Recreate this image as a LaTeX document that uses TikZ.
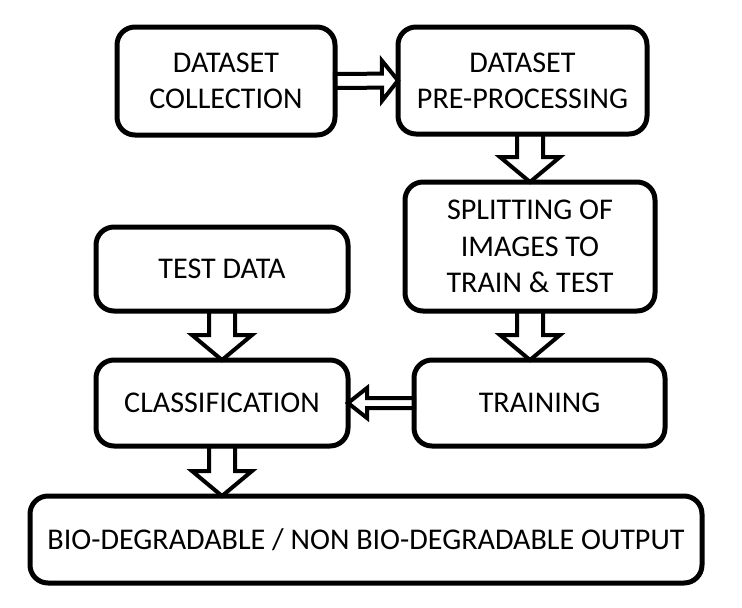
\documentclass[tikz,border=0pt]{standalone}
\usepackage{fontspec}
\setmainfont{Carlito}
\usetikzlibrary{calc,backgrounds}

\tikzset{
  ashaft/.store in=\ashaft, ahead/.store in=\ahead, alen/.store in=\alen,
  ashaft=3.9mm, ahead=9mm, alen=7.5mm,
  blockarrow/.style={draw,fill=white,line width=1.2mm,line join=miter,
    to path={
      ($(\tikztostart)!\ashaft!90:(\tikztotarget)$)
      -- ($($(\tikztotarget)!\alen!(\tikztostart)$)!\ashaft!90:(\tikztotarget)$)
      -- ($($(\tikztotarget)!\alen!(\tikztostart)$)!\ahead!90:(\tikztotarget)$)
      -- (\tikztotarget)
      -- ($($(\tikztotarget)!\alen!(\tikztostart)$)!\ahead!-90:(\tikztotarget)$)
      -- ($($(\tikztotarget)!\alen!(\tikztostart)$)!\ashaft!-90:(\tikztotarget)$)
      -- ($(\tikztostart)!\ashaft!-90:(\tikztotarget)$)
      -- cycle}},
}

\begin{document}
\begin{tikzpicture}[
    font=\fontsize{25.7pt}{31pt}\selectfont,line width=1.5mm,
    box/.style={draw,rounded corners=5.4mm,align=center,outer sep=0pt,inner sep=0pt}
]

\node[box,minimum width=65.4mm,minimum height=32.4mm] (coll) at (67.8mm,-24.3mm)
    {DATASET\\COLLECTION};
\node[box,minimum width=74.7mm,minimum height=32.1mm] (pre) at (156.75mm,-24.15mm)
    {DATASET\\PRE-PROCESSING};
\node[box,minimum width=75mm,minimum height=38.7mm] (split) at (159mm,-73.95mm)
    {SPLITTING OF\\IMAGES TO\\TRAIN \& TEST};
\node[box,minimum width=75.6mm,minimum height=25.2mm] (test) at (66.6mm,-80.7mm)
    {TEST DATA};
\node[box,minimum width=75.6mm,minimum height=25.8mm] (class) at (66.6mm,-120.9mm)
    {CLASSIFICATION};
\node[box,minimum width=75.3mm,minimum height=25.8mm] (train) at (161.85mm,-120.9mm)
    {TRAINING};
\node[box,minimum width=201.6mm,minimum height=26.1mm] (out) at (109.8mm,-161.85mm)
    {BIO-DEGRADABLE / NON BIO-DEGRADABLE OUTPUT};

\begin{scope}[on background layer]
\fill[white] (0,0) rectangle (222.6mm,-182.1mm);
\draw[blockarrow,ashaft=2.1mm,ahead=6mm,alen=4.8mm] (coll.east) to (pre.west);
\draw[blockarrow] (pre.south -| split.north) to (split.north);
\draw[blockarrow] (split.south) to (split.south |- train.north);
\draw[blockarrow] (test.south) to (class.north);
\draw[blockarrow,ashaft=1.5mm,ahead=4.5mm,alen=5.7mm] (train.west) to (class.east);
\draw[blockarrow] (class.south) to (class.south |- out.north);
\end{scope}

\useasboundingbox (0,0) rectangle (222.6mm,-182.1mm);

\end{tikzpicture}
\end{document}
